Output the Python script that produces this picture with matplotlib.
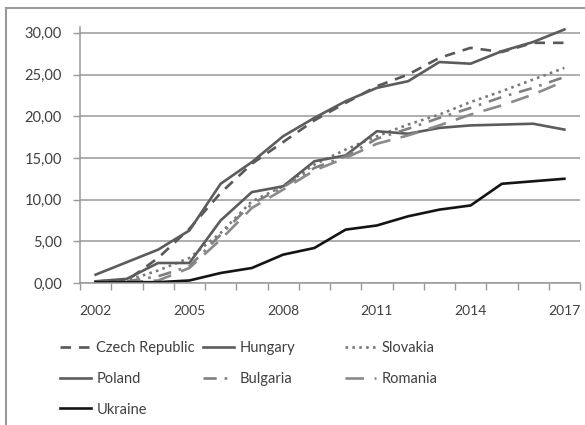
#!/usr/bin/env python3

from matplotlib import pyplot as plt
from matplotlib.patches import Rectangle
import numpy as np

years = list(range(2002, 2018))
tick_years = [2002, 2005, 2008, 2011, 2014, 2017]

czech = [0.2, 0.3, 3.0, 6.5, 10.8, 14.3, 16.9, 19.5, 21.6, 23.6, 25.0, 27.0, 28.2, 27.7, 28.8, 28.8]
hungary = [1.0, 2.5, 4.0, 6.3, 11.9, 14.5, 17.6, 19.8, 21.8, 23.4, 24.2, 26.5, 26.3, 27.8, 28.9, 30.4]
slovakia = [0.1, 0.3, 1.5, 3.0, 6.0, 9.8, 11.6, 14.2, 16.0, 17.6, 19.0, 20.2, 21.7, 23.0, 24.4, 25.8]
poland = [0.2, 0.5, 2.4, 2.4, 7.5, 10.9, 11.6, 14.6, 15.3, 18.2, 17.9, 18.6, 18.9, 19.0, 19.1, 18.4]
bulgaria = [0.1, 0.2, 0.8, 2.0, 5.8, 9.5, 11.5, 13.8, 15.2, 17.3, 18.5, 19.8, 21.0, 22.3, 23.4, 24.7]
romania = [0.1, 0.1, 0.3, 1.8, 5.2, 9.0, 11.2, 13.5, 15.0, 16.7, 17.7, 18.9, 20.2, 21.3, 22.6, 24.2]
ukraine = [0.1, 0.1, 0.1, 0.3, 1.2, 1.8, 3.4, 4.2, 6.4, 6.9, 8.0, 8.8, 9.3, 11.9, 12.2, 12.5]

plt.rcParams['font.family'] = ['Lato', 'DejaVu Sans']
txt = '#404040'

fig = plt.figure(figsize=(5.85, 4.25), dpi=100)
ax = fig.add_axes([80 / 585, 1 - 283 / 425, 500 / 585, 256 / 425])

x = np.arange(len(years))
lw = 1.9
series = [
    ('Czech Republic', czech, '#585858', (0, (4, 3))),
    ('Hungary', hungary, '#5c5c5c', '-'),
    ('Slovakia', slovakia, '#7a7a7a', (0, (1, 1.6))),
    ('Poland', poland, '#5c5c5c', '-'),
    ('Bulgaria', bulgaria, '#808080', (0, (5, 3, 1, 3))),
    ('Romania', romania, '#8a8a8a', (0, (7, 4))),
    ('Ukraine', ukraine, '#141414', '-'),
]
lines = {}
for name, vals, col, ls in series:
    lines[name], = ax.plot(x, vals, color=col, ls=ls, lw=lw, label=name)

ax.set_xlim(-0.5, len(years) - 0.5)
ax.set_ylim(0, 30.7)
ax.set_yticks(np.arange(0, 31, 5))
ax.set_yticklabels([f'{v:.2f}'.replace('.', ',') for v in np.arange(0, 31, 5)])
ax.yaxis.grid(True, color='#a8a8a8', lw=1.3)
ax.set_axisbelow(True)

ax.set_xticks([years.index(y) for y in tick_years])
ax.set_xticklabels([str(y) for y in tick_years])
ax.set_xticks(np.arange(-0.5, len(years)), minor=True)
ax.tick_params(axis='x', which='major', length=0, pad=16, labelsize=10, colors=txt)
ax.tick_params(axis='x', which='minor', length=5, width=1, color='#999999')
ax.tick_params(axis='y', length=5, width=1, color='#999999', labelsize=10.5, labelcolor=txt, pad=8)

for s in ['top', 'right']:
    ax.spines[s].set_visible(False)
for s in ['left', 'bottom']:
    ax.spines[s].set_color('#999999')
    ax.spines[s].set_linewidth(1.1)

# legend in three columns, laid out like the original
cols = [
    (['Czech Republic', 'Poland', 'Ukraine'], 60),
    (['Hungary', 'Bulgaria'], 203),
    (['Slovakia', 'Romania'], 345),
]
for names, px in cols:
    leg = fig.legend([lines[n] for n in names], names, loc='upper left',
                     bbox_to_anchor=(px / 585, 1 - 341 / 425), frameon=False,
                     borderpad=0, borderaxespad=0, handlelength=2.1,
                     handletextpad=0.4, labelspacing=1.15, fontsize=10.5)
    for t in leg.get_texts():
        t.set_color(txt)

fig.patches.append(Rectangle((6 / 585, -0.05), 1.1, 1.05 - 8 / 425,
                             transform=fig.transFigure, fill=False,
                             ec='#9a9a9a', lw=1.5))

fig.savefig('out.png', dpi=100)
